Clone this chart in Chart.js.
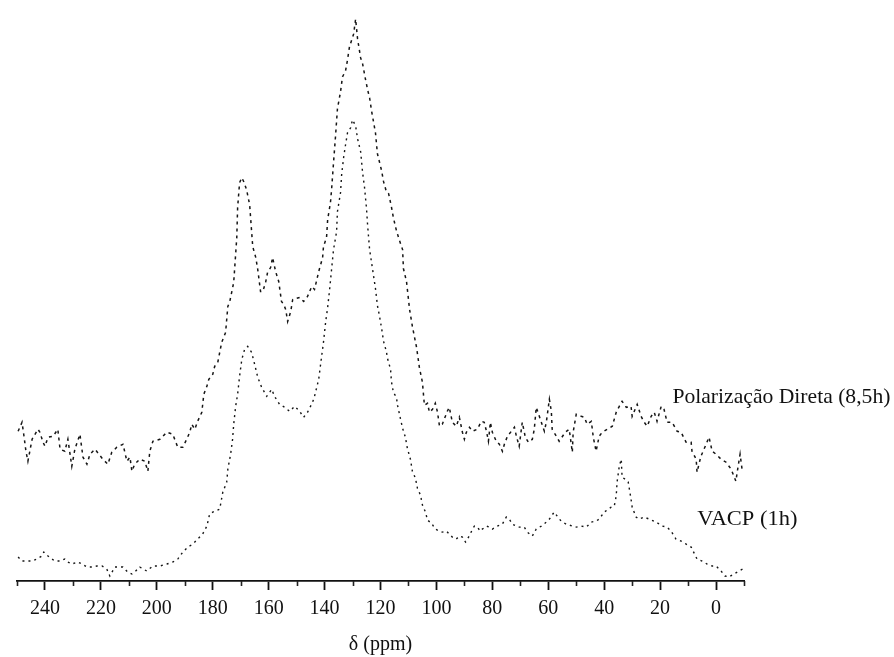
<!DOCTYPE html>
<html>
<head>
<meta charset="utf-8">
<script src="https://cdn.jsdelivr.net/npm/chart.js@4/dist/chart.umd.min.js"></script>
<style>
html,body{margin:0;padding:0;background:#fff;}
#wrap{width:894px;height:657px;}
</style>
</head>
<body>
<div id="wrap"><canvas id="c" width="894" height="657"></canvas></div>
<script>
// chemical shift axis
const xMin = -10;
const xMax = 250;
const tickLabels = ['240','220','200','180','160','140','120','100','80','60','40','20','0'];
const axisTitle = 'δ (ppm)';
const seriesNames = ['Polarização Direta (8,5h)', 'VACP (1h)'];

// Polarização Direta (8,5h): chemical shift (ppm) and intensity (a.u.)
const polPpm = [249.6,248.2,247.5,246.8,246.1,244.6,242.5,241.8,240.7,240.0,238.9,237.1,235.4,234.6,232.9,231.8,230.4,229.3,227.5,226.4,225.0,223.9,222.1,219.3,217.5,216.1,214.3,212.1,210.7,209.6,208.9,207.9,206.1,204.3,203.2,202.5,201.4,198.9,196.4,194.3,192.5,190.7,189.3,188.2,187.5,186.4,185.4,183.9,183.2,182.1,181.4,180.0,179.3,178.2,176.8,175.4,174.6,173.9,172.5,171.4,171.1,170.4,169.6,168.9,167.9,166.8,165.7,164.6,163.9,162.9,162.1,161.1,160.4,159.3,158.6,157.5,156.4,155.4,154.6,153.9,153.2,152.1,151.4,148.9,147.5,146.1,144.6,143.6,142.1,140.7,140.4,139.3,138.9,137.9,137.5,136.8,136.1,135.4,134.3,133.6,132.5,131.8,131.1,129.6,128.9,128.2,127.1,126.4,125.4,124.6,123.9,123.2,121.8,121.1,119.6,118.9,117.9,117.1,116.1,115.4,114.3,113.2,112.1,111.8,110.7,109.6,108.6,107.1,106.1,105.0,104.3,103.2,102.5,101.4,100.4,99.6,98.9,97.9,96.1,95.4,94.3,92.9,91.8,90.7,90.0,89.3,88.2,87.1,85.4,83.9,82.9,82.1,81.4,80.7,80.0,78.6,77.5,76.4,75.7,74.6,73.2,72.1,71.4,70.4,69.3,68.2,67.1,65.7,65.0,64.3,63.2,61.4,60.7,59.6,58.9,58.6,57.1,56.1,53.9,52.5,51.4,51.1,50.0,48.2,47.1,46.1,44.6,43.9,42.9,41.8,40.7,38.9,37.1,35.7,34.6,33.6,32.1,30.4,30.0,28.2,26.8,25.7,24.6,23.2,22.1,21.1,19.6,18.6,17.5,15.7,13.9,12.5,10.7,8.9,8.6,7.1,6.8,5.4,4.3,2.5,1.4,0.0,-1.8,-3.6,-5.4,-7.1,-7.9,-8.6,-9.3];
const polInt = [150,159,145,130,120,142,152,149,139,135,144,145,152,132,130,142,115,132,147,124,117,127,132,122,117,129,134,137,120,124,110,117,122,120,110,130,140,142,149,147,134,134,142,149,157,152,160,169,187,195,202,207,215,219,239,249,275,280,299,344,374,399,404,400,392,377,335,324,312,290,290,299,309,314,324,310,300,280,277,272,260,270,282,284,280,285,295,292,310,324,335,344,362,379,392,419,445,473,490,505,511,522,535,548,563,543,524,518,503,492,484,471,449,428,411,400,390,388,375,364,351,341,332,313,300,272,255,234,214,199,176,178,169,172,178,169,155,157,170,174,159,155,164,149,142,149,154,150,152,160,159,150,140,159,149,140,137,130,137,145,150,154,145,135,159,144,139,142,152,174,165,150,159,182,170,152,145,140,149,152,129,149,167,165,164,157,160,144,130,145,149,152,155,169,175,180,174,175,165,177,165,159,155,165,169,160,175,172,159,159,150,149,139,139,130,122,109,125,132,144,130,127,122,119,112,100,115,127,112];

// VACP (1h): chemical shift (ppm) and intensity (a.u.)
const vacpPpm = [249.6,248.2,246.4,244.6,242.9,241.1,240.4,238.9,237.5,236.4,234.6,232.9,231.8,230.4,228.2,226.8,225.0,223.2,221.4,219.6,217.9,216.8,215.0,212.1,210.4,208.9,207.9,206.1,203.6,201.4,198.9,196.4,194.3,192.5,190.7,188.9,187.1,185.4,183.6,182.1,181.1,180.0,177.5,176.4,175.0,174.6,173.6,172.9,172.5,171.8,171.1,170.4,169.6,168.6,167.5,166.1,165.0,163.9,162.5,160.7,158.9,157.9,156.1,154.3,152.5,150.7,148.9,147.5,146.1,144.3,143.6,142.1,141.1,140.4,139.6,138.9,138.2,137.5,136.8,135.7,135.4,134.3,133.9,133.2,132.5,131.8,130.7,130.0,128.9,128.2,127.1,126.4,125.7,125.0,124.6,123.9,123.2,122.5,121.8,121.1,120.4,119.6,118.9,117.9,117.5,116.4,116.1,115.4,114.3,113.9,112.9,112.1,111.1,110.4,109.3,108.6,107.5,106.8,105.7,105.0,103.9,103.2,101.8,100.4,98.9,97.9,96.4,95.4,94.3,92.9,91.8,90.7,89.6,88.9,87.9,87.1,86.4,85.4,84.3,83.6,82.1,81.1,80.0,78.2,76.4,75.0,73.9,72.9,71.4,70.4,68.6,67.5,65.7,64.3,62.5,60.7,59.6,57.9,56.8,55.4,53.6,51.4,50.0,48.2,46.4,44.6,42.9,41.8,40.0,37.5,36.4,35.7,35.4,34.6,33.9,33.6,32.5,31.4,30.4,30.0,28.6,27.5,25.7,23.9,21.4,19.3,17.5,16.1,14.3,12.5,10.7,8.9,6.8,5.0,3.2,1.4,0.0,-1.8,-3.2,-4.6,-6.4,-8.2,-9.6];
const vacpInt = [24,20,20,20,22,25,29,25,22,20,20,22,19,17,19,17,14,14,15,15,12,5,14,14,9,7,9,14,10,15,15,17,19,22,29,34,37,42,47,55,67,69,72,89,99,112,127,142,157,175,187,205,222,232,235,229,217,204,194,185,192,185,177,174,170,175,170,164,169,179,185,202,224,239,260,274,292,312,332,350,370,389,407,424,437,449,454,462,456,443,430,409,394,373,356,332,319,306,293,276,266,253,240,230,223,212,200,189,184,176,163,153,144,133,122,110,103,93,86,76,69,61,58,52,50,49,50,47,44,42,45,44,39,42,47,52,55,54,50,52,55,54,52,55,57,64,62,57,55,54,54,49,45,52,55,59,62,69,65,60,57,55,54,55,54,59,60,62,69,74,75,85,99,115,122,104,102,99,82,74,64,62,64,62,59,55,54,50,42,40,37,34,22,20,17,15,15,10,5,4,7,10,12];

const yMin = 0;
const yMax = 582;

function pts(xs, ys){ return xs.map((x,i)=>({x:x, y:ys[i]})); }

const serif = '"Liberation Serif", "DejaVu Serif", serif';

function stretchedText(ctx, text, x, y, sx){
  ctx.save();
  ctx.translate(x, y);
  ctx.scale(sx, 1);
  ctx.fillText(text, 0, 0);
  ctx.restore();
}

const decorPlugin = {
  id: 'decor',
  afterDraw(chart){
    const ctx = chart.ctx;
    const xs = chart.scales.x;
    const ys = chart.scales.y;
    const base = chart.chartArea.bottom;
    ctx.save();
    // minor ticks every 10 ppm that are not labelled
    ctx.strokeStyle = '#222';
    ctx.lineWidth = 1.6;
    for (let v = xMin; v <= xMax; v += 10) {
      if (v % 20 !== 0 || v > 240) {
        const px = Math.round(xs.getPixelForValue(v)) + 0.5;
        ctx.beginPath();
        ctx.moveTo(px, base);
        ctx.lineTo(px, base + 5);
        ctx.stroke();
      }
    }
    // series labels, anchored in data space
    ctx.fillStyle = '#111';
    ctx.font = '21px ' + serif;
    ctx.textBaseline = 'middle';
    ctx.textAlign = 'left';
    stretchedText(ctx, seriesNames[0], xs.getPixelForValue(15.6), ys.getPixelForValue(184), 1.03);
    stretchedText(ctx, seriesNames[1], xs.getPixelForValue(6.7), ys.getPixelForValue(62), 1.07);
    ctx.restore();
  }
};

new Chart(document.getElementById('c'), {
  type: 'line',
  data: {
    datasets: [
      {
        label: seriesNames[0],
        data: pts(polPpm, polInt),
        borderColor: '#151515',
        borderWidth: 1.5,
        borderDash: [3, 4],
        pointRadius: 0,
        tension: 0,
        fill: false
      },
      {
        label: seriesNames[1],
        data: pts(vacpPpm, vacpInt),
        borderColor: '#151515',
        borderWidth: 1.4,
        borderDash: [2, 4],
        pointRadius: 0,
        tension: 0,
        fill: false
      }
    ]
  },
  options: {
    responsive: false,
    animation: false,
    events: [],
    layout: { padding: { left: 17, right: 150, top: 0, bottom: 0 } },
    plugins: {
      legend: { display: false },
      tooltip: { enabled: false },
      title: { display: false }
    },
    scales: {
      x: {
        type: 'linear',
        reverse: true,
        min: xMin,
        max: xMax,
        border: { display: true, color: '#111', width: 1.8 },
        grid: {
          display: true,
          drawOnChartArea: false,
          drawTicks: true,
          tickLength: 9,
          tickWidth: 1.8,
          tickColor: (c) => {
            const v = c.tick && c.tick.value;
            return (v % 20 === 0 && v >= 0 && v <= 240) ? '#111' : 'rgba(0,0,0,0)';
          }
        },
        ticks: {
          stepSize: 10,
          autoSkip: false,
          maxRotation: 0,
          padding: 7,
          color: '#111',
          font: { family: serif, size: 20 },
          callback: (v) => {
            const s = String(v);
            return tickLabels.includes(s) ? s : '';
          }
        },
        title: {
          display: true,
          text: axisTitle,
          color: '#111',
          font: { family: serif, size: 20 },
          padding: { top: 5, bottom: 0 }
        }
      },
      y: {
        display: false,
        min: yMin,
        max: yMax
      }
    }
  },
  plugins: [decorPlugin]
});
</script>
</body>
</html>
